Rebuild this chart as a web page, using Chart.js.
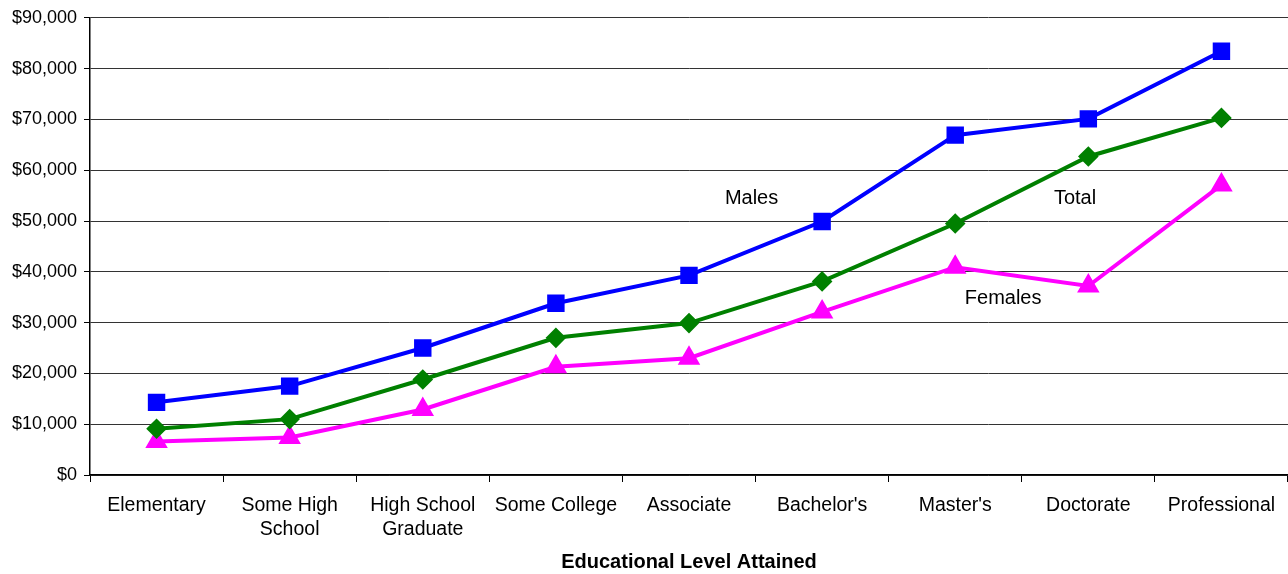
<!DOCTYPE html>
<html>
<head>
<meta charset="utf-8">
<script src="https://cdn.jsdelivr.net/npm/chart.js@4/dist/chart.umd.min.js"></script>
<style>
  html, body { margin: 0; padding: 0; background: #fff; overflow: hidden; }
  #wrap { width: 1288px; height: 574px; position: relative; }
  #incomeChart { display: block; }
</style>
</head>
<body>
<div id="wrap"><canvas id="incomeChart"></canvas></div>
<script>
const categories = ["Elementary", ["Some High", "School"], ["High School", "Graduate"], "Some College",
    "Associate", "Bachelor's", "Master's", "Doctorate", "Professional"];
const males   = [14300, 17500, 25000, 33800, 39300, 49900, 66900, 70100, 83400];
const total   = [9100, 11000, 18800, 27000, 29900, 38100, 49500, 62700, 70300];
const females = [6600, 7400, 12900, 21300, 23000, 32100, 40900, 37200, 57100];
const yTicks  = [0, 10000, 20000, 30000, 40000, 50000, 60000, 70000, 80000, 90000];

// series name labels placed in data space (category index, value)
const seriesNotes = [
    { text: "Males",   at: 4.47, value: 54400 },
    { text: "Total",   at: 6.90, value: 54400 },
    { text: "Females", at: 6.36, value: 34800 }
];

const FONT = "'Liberation Sans', Arial, sans-serif";

const notePlugin = {
    id: "seriesNotes",
    afterDatasetsDraw(chart) {
        const { ctx, scales: { x, y } } = chart;
        ctx.save();
        ctx.font = "20px " + FONT;
        ctx.fillStyle = "#000";
        ctx.textAlign = "center";
        ctx.textBaseline = "middle";
        seriesNotes.forEach(n => ctx.fillText(n.text, x.getPixelForValue(n.at), y.getPixelForValue(n.value)));
        ctx.restore();
    }
};

function money(v) {
    return "$" + v.toLocaleString("en-US");
}

function bootChart() {
    const cv = document.getElementById("incomeChart");
    new Chart(cv.getContext("2d"), {
        type: "line",
        data: {
            labels: categories,
            datasets: [
                { label: "Males", data: males, borderColor: "#0000ff", backgroundColor: "#0000ff",
                  pointStyle: "rect", pointRadius: 9.5, borderWidth: 4, fill: false },
                { label: "Total", data: total, borderColor: "#008000", backgroundColor: "#008000",
                  pointStyle: "rectRot", pointRadius: 7.5, borderWidth: 4, fill: false },
                { label: "Females", data: females, borderColor: "#ff00ff", backgroundColor: "#ff00ff",
                  pointStyle: "triangle", pointRadius: 9, borderWidth: 4, fill: false }
            ]
        },
        options: {
            responsive: true,
            maintainAspectRatio: false,
            animation: false,
            layout: { autoPadding: false, padding: { top: 16, right: 0, bottom: 0, left: 0 } },
            plugins: { legend: { display: false }, tooltip: { enabled: false } },
            elements: { line: { tension: 0 }, point: { borderWidth: 1 } },
            scales: {
                x: {
                    offset: true,
                    afterFit(scale) { scale.height = 99; scale.paddingRight = 0; scale.paddingLeft = 0; },
                    grid: { offset: true, drawOnChartArea: false, tickLength: 7, color: "#000", tickWidth: 1 },
                    border: { color: "#000", width: 1.5 },
                    ticks: { color: "#000", font: { family: FONT, size: 19.5, lineHeight: 1.25 }, padding: 11,
                             maxRotation: 0, autoSkip: false },
                    title: { display: true, text: "Educational Level Attained", color: "#000",
                             font: { family: FONT, size: 20, weight: "bold" }, padding: { top: 0, bottom: 0 } }
                },
                y: {
                    min: 0, max: 90000,
                    afterFit(scale) { scale.width = 90; },
                    afterBuildTicks(scale) { scale.ticks = yTicks.map(v => ({ value: v })); },
                    grid: { color: "#333", lineWidth: 1, tickLength: 6, tickColor: "#000" },
                    border: { color: "#000", width: 1.5 },
                    ticks: { color: "#000", font: { family: FONT, size: 18 }, padding: 7, callback: v => money(v) }
                }
            }
        },
        plugins: [notePlugin]
    });
}

document.addEventListener("DOMContentLoaded", bootChart);
</script>
</body>
</html>
